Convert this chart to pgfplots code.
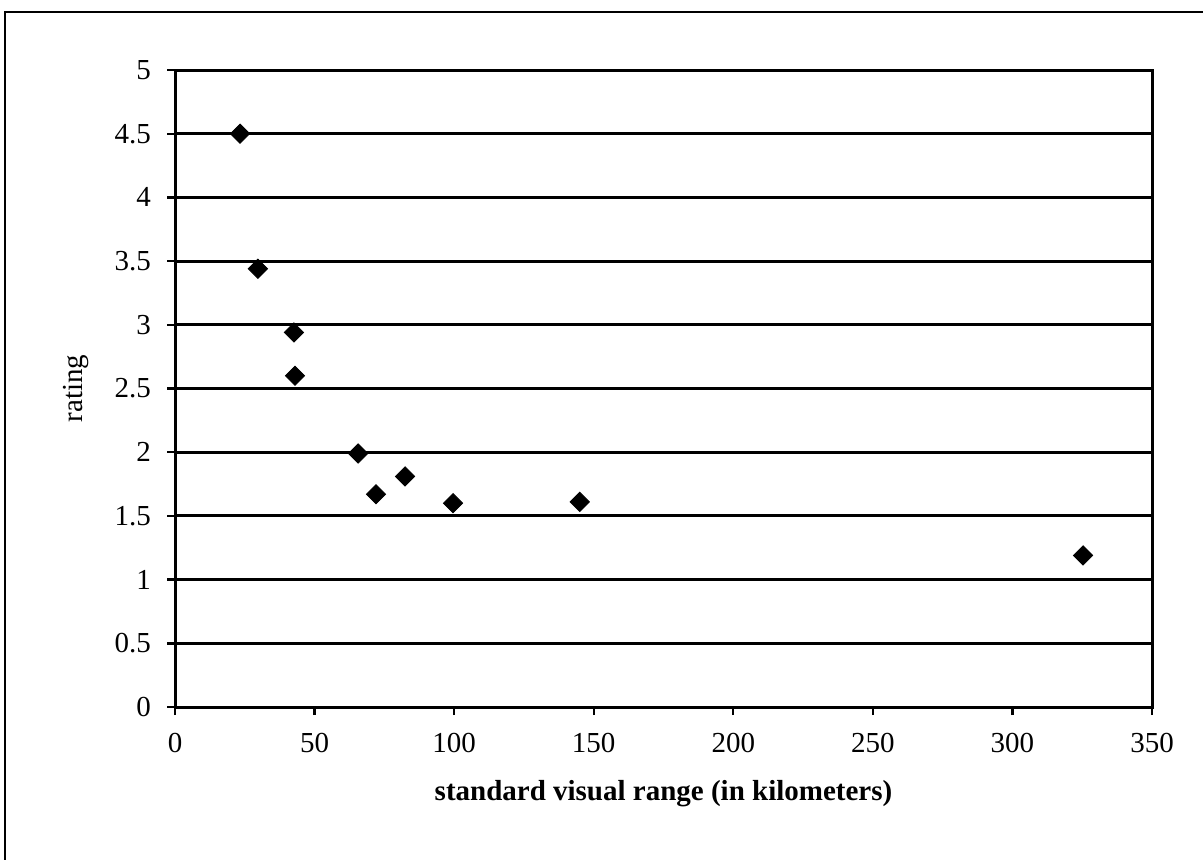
\documentclass[border=0pt]{standalone}
\usepackage{fontspec}
\setmainfont{Liberation Serif}
\usepackage{pgfplots}
\pgfplotsset{compat=1.18}
\begin{document}
\fontsize{14.5}{17}\selectfont
\begin{tikzpicture}[x=1pt,y=1pt]
\useasboundingbox (0,0) rectangle (601.5,429.5);
\draw[line width=1pt] (2.5,-20) -- (2.5,423.5) -- (640,423.5);
\begin{axis}[
  at={(87.5pt,76pt)}, anchor=south west,
  scale only axis, width=488.5pt, height=318.5pt,
  xmin=0, xmax=350, ymin=0, ymax=5,
  xtick={0,50,...,350}, ytick={0,0.5,...,5},
  yticklabels={0,0.5,1,1.5,2,2.5,3,3.5,4,4.5,5},
  /pgf/number format/assume math mode=true,
  ymajorgrids, grid style={black, line width=1.5pt},
  axis line style={black, line width=1.5pt},
  tick style={black, line width=1.2pt},
  tick align=outside, major tick length=4pt,
  xtick pos=bottom, ytick pos=left,
  xticklabel style={yshift=-4pt},
  yticklabel style={xshift=-3pt},
  xlabel={\bfseries standard visual range (in kilometers)},
  ylabel={rating},
  xlabel style={yshift=-4pt},
  ylabel style={yshift=3pt},
]
\addplot[only marks, mark=square*, mark size=3.4pt, mark options={rotate=45, fill=black, draw=black}] coordinates {
(23.3,4.50)
(29.7,3.44)
(42.6,2.94)
(43.0,2.60)
(65.6,1.99)
(72.0,1.67)
(82.4,1.81)
(99.6,1.60)
(145.0,1.61)
(325.3,1.19)
};
\end{axis}
\end{tikzpicture}
\end{document}
